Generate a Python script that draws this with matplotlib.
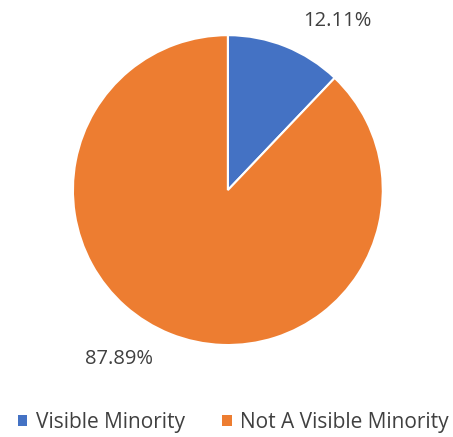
import numpy as np
import matplotlib
matplotlib.use("Agg")
import matplotlib.pyplot as plt
from matplotlib.patches import Patch

categories = ["Visible Minority", "Not A Visible Minority"]
shares = [12.11, 87.89]
colors = ["#4472C4", "#ED7D31"]
text_color = "#404040"

plt.rcParams['font.family'] = ['Open Sans', 'DejaVu Sans']

fig = plt.figure(figsize=(4.53, 4.37), dpi=100)
ax = fig.add_axes([0.161, 0.2105, 0.684, 0.709])

wedges, _ = ax.pie(shares, colors=colors, startangle=90, counterclock=False,
                   wedgeprops=dict(edgecolor="white", linewidth=1.5))
ax.set_xlim(-1, 1)
ax.set_ylim(-1, 1)

# data labels placed outside, a bit past each slice midpoint (like Excel best fit)
for w, val in zip(wedges, shares):
    mid = np.deg2rad((w.theta1 + w.theta2) / 2 - 11)
    x, y = 1.3 * np.cos(mid), 1.3 * np.sin(mid)
    ax.text(x, y, f"{val:.2f}%", ha="center", va="center",
            fontsize=14.5, color=text_color, clip_on=False)

handles = [Patch(facecolor=c, edgecolor="none", label=l) for c, l in zip(colors, categories)]
fig.legend(handles=handles, loc="center", bbox_to_anchor=(0.515, 0.033), ncol=2,
           frameon=False, fontsize=15, labelcolor=text_color,
           handlelength=0.45, handleheight=0.45, handletextpad=0.4, columnspacing=1.8)

fig.savefig("out.png", dpi=100)
